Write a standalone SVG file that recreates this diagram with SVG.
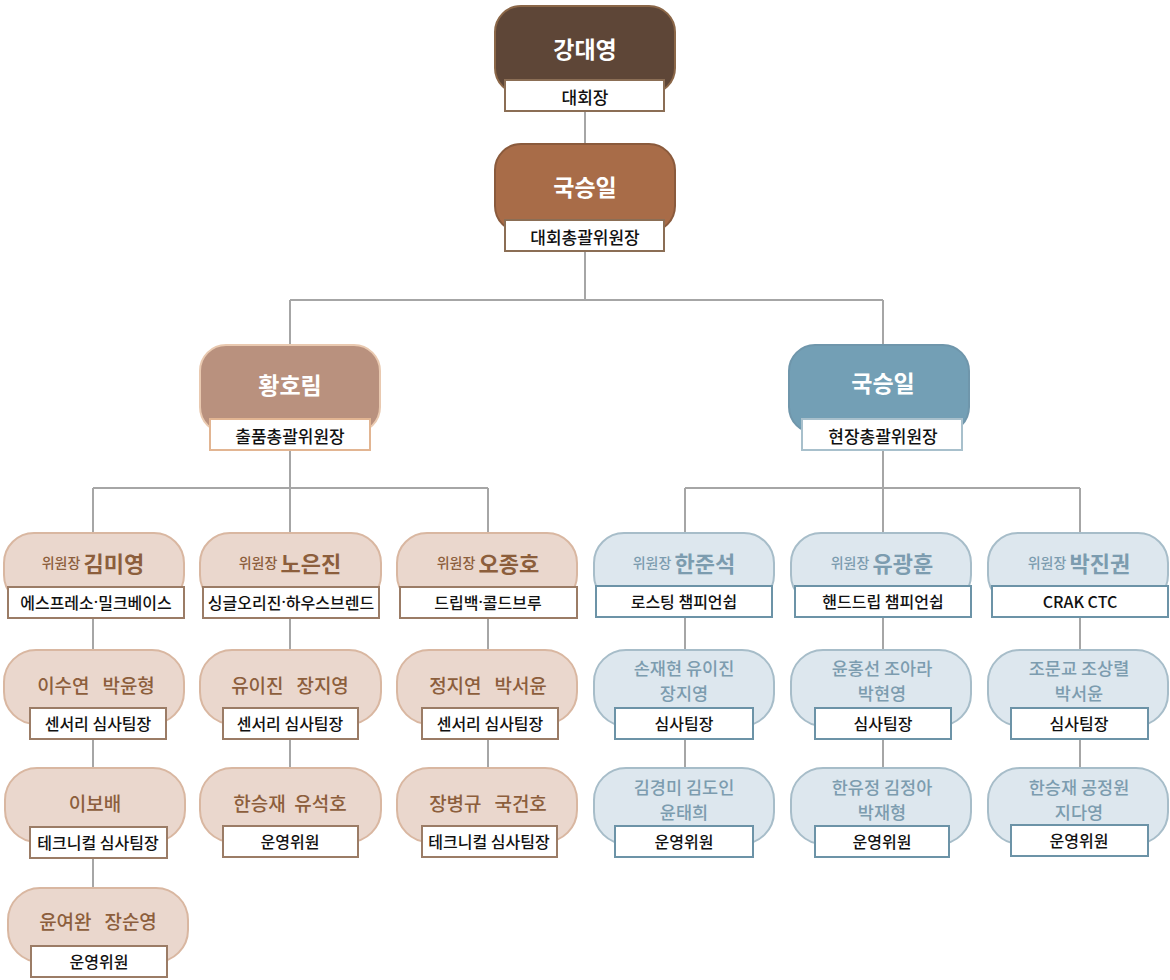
<svg xmlns="http://www.w3.org/2000/svg" width="1170" height="980" viewBox="0 0 1170 980">
<style>
text{font-family:"Noto Sans CJK KR","Noto Sans",sans-serif;text-anchor:middle;dominant-baseline:central}
.conn{fill:none;stroke:#A6A6A6;stroke-width:2}
.lbl{fill:#fff;stroke-width:2}
.lt{font-size:16px;fill:#111;font-weight:500}
.tl{font-size:17px}
.big{font-size:23px;font-weight:700;fill:#fff}
.ln{fill:#EAD7CD;stroke:#D9B7A1;stroke-width:2}
.lb{stroke:#9B7C66}
.lnt{fill:#8C5E3C}
.rn{fill:#DDE7EE;stroke:#A7BDC9;stroke-width:2}
.rb{stroke:#6C93A7}
.rnt{fill:#7C9CAF}
.sm{font-size:14px;font-weight:500}
.nm{font-size:22px;font-weight:700}
.mn{font-size:19px;font-weight:500}
.m2{font-size:17.5px;font-weight:500}
.dot{font-family:"Noto Sans",sans-serif}
</style>
<g id="connectors" class="conn">
<path d="M585 111V143M585 251V300M290 300H883M290 300V344M883 300V344"/>
<path d="M290 450V488M93 488H488M93 488V533M290 488V533M488 488V533"/>
<path d="M883 450V488M685 488H1080M685 488V533M883 488V533M1080 488V533"/>
<path d="M93 618V650M93 739V768M93 858V888M290 618V650M290 739V768M488 618V650M488 739V768"/>
<path d="M685 617V650M685 739V768M883 617V650M883 739V768M1080 617V650M1080 739V768"/>
</g>
<g id="n-kang">
<rect x="495" y="6" width="180" height="88" rx="26" fill="#5E4637" stroke="#8B6748" stroke-width="2"/>
<rect class="lbl" x="505" y="80" width="159" height="31" stroke="#8B6E55"/>
<text class="big" x="585" y="48">강대영</text>
<text class="lt tl" x="585" y="96">대회장</text>
</g>
<g id="n-kook1">
<rect x="495" y="144" width="180" height="88" rx="26" fill="#A86C48" stroke="#8A5A3C" stroke-width="2"/>
<rect class="lbl" x="505" y="220" width="159" height="31" stroke="#8B6E55"/>
<text class="big" x="585" y="186">국승일</text>
<text class="lt tl" x="585" y="236">대회총괄위원장</text>
</g>
<g id="n-hwang">
<rect x="200" y="345" width="180" height="88" rx="26" fill="#B9917E" stroke="#E9C9B0" stroke-width="2"/>
<rect class="lbl" x="210" y="419" width="160" height="31" stroke="#E2B592"/>
<text class="big" x="290" y="384">황호림</text>
<text class="lt tl" x="290" y="435">출품총괄위원장</text>
</g>
<g id="n-kook2">
<rect x="789" y="345" width="180" height="88" rx="26" fill="#739FB5" stroke="#6F96AB" stroke-width="2"/>
<rect class="lbl" x="802" y="419" width="160" height="31" stroke="#A8C0CC"/>
<text class="big" x="883" y="382">국승일</text>
<text class="lt tl" x="883" y="435">현장총괄위원장</text>
</g>
<g id="n-kimmy">
<rect class="ln" x="4" y="533" width="180" height="72" rx="30"/>
<rect class="lbl lb" x="8" y="587" width="176" height="31"/>
<text x="93" y="562"><tspan class="lnt sm">위원장 </tspan><tspan class="lnt nm">김미영</tspan></text>
<text class="lt" x="96" y="602">에스프레소<tspan class="dot">·</tspan>밀크베이스</text>
</g>
<g id="n-noh">
<rect class="ln" x="200" y="533" width="181" height="72" rx="30"/>
<rect class="lbl lb" x="203" y="587" width="176" height="31"/>
<text x="290" y="562"><tspan class="lnt sm">위원장 </tspan><tspan class="lnt nm">노은진</tspan></text>
<text class="lt" x="291" y="602">싱글오리진<tspan class="dot">·</tspan>하우스브렌드</text>
</g>
<g id="n-oh">
<rect class="ln" x="397" y="533" width="180" height="72" rx="30"/>
<rect class="lbl lb" x="400" y="587" width="177" height="31"/>
<text x="488" y="562"><tspan class="lnt sm">위원장 </tspan><tspan class="lnt nm">오종호</tspan></text>
<text class="lt" x="488" y="602">드립백<tspan class="dot">·</tspan>콜드브루</text>
</g>
<g id="n-han">
<rect class="rn" x="594" y="533" width="180" height="72" rx="30"/>
<rect class="lbl rb" x="596" y="586" width="176" height="31"/>
<text x="684" y="562"><tspan class="rnt sm">위원장 </tspan><tspan class="rnt nm">한준석</tspan></text>
<text class="lt" x="684" y="601">로스팅 챔피언쉽</text>
</g>
<g id="n-yoo">
<rect class="rn" x="791" y="533" width="180" height="72" rx="30"/>
<rect class="lbl rb" x="795" y="586" width="176" height="31"/>
<text x="882" y="562"><tspan class="rnt sm">위원장 </tspan><tspan class="rnt nm">유광훈</tspan></text>
<text class="lt" x="883" y="601">핸드드립 챔피언쉽</text>
</g>
<g id="n-park">
<rect class="rn" x="988" y="533" width="180" height="72" rx="30"/>
<rect class="lbl rb" x="992" y="586" width="176" height="31"/>
<text x="1079" y="562"><tspan class="rnt sm">위원장 </tspan><tspan class="rnt nm">박진권</tspan></text>
<text class="lt" x="1080" y="601">CRAK CTC</text>
</g>
<g id="n-lee">
<rect class="ln" x="4" y="650" width="180" height="74" rx="32"/>
<rect class="lbl lb" x="30" y="708" width="136" height="31"/>
<text class="lnt mn" x="96" y="684" xml:space="preserve">이수연   박윤형</text>
<text class="lt" x="98" y="723">센서리 심사팀장</text>
</g>
<g id="n-yij">
<rect class="ln" x="200" y="650" width="181" height="74" rx="32"/>
<rect class="lbl lb" x="223" y="708" width="135" height="31"/>
<text class="lnt mn" x="290" y="684" xml:space="preserve">유이진   장지영</text>
<text class="lt" x="290" y="723">센서리 심사팀장</text>
</g>
<g id="n-jung">
<rect class="ln" x="397" y="650" width="180" height="74" rx="32"/>
<rect class="lbl lb" x="422" y="708" width="136" height="31"/>
<text class="lnt mn" x="488" y="684" xml:space="preserve">정지연   박서윤</text>
<text class="lt" x="490" y="723">센서리 심사팀장</text>
</g>
<g id="n-son">
<rect class="rn" x="594" y="650" width="180" height="76" rx="32"/>
<rect class="lbl rb" x="615" y="708" width="138" height="31"/>
<text class="rnt m2" x="684" y="667">손재현 유이진</text>
<text class="rnt m2" x="684" y="692.5">장지영</text>
<text class="lt" x="684" y="723">심사팀장</text>
</g>
<g id="n-yoon">
<rect class="rn" x="791" y="650" width="180" height="76" rx="32"/>
<rect class="lbl rb" x="815" y="708" width="136" height="31"/>
<text class="rnt m2" x="882" y="667">윤홍선 조아라</text>
<text class="rnt m2" x="882" y="692.5">박현영</text>
<text class="lt" x="883" y="723">심사팀장</text>
</g>
<g id="n-cho">
<rect class="rn" x="988" y="650" width="180" height="76" rx="32"/>
<rect class="lbl rb" x="1011" y="708" width="137" height="31"/>
<text class="rnt m2" x="1079" y="667">조문교 조상렬</text>
<text class="rnt m2" x="1079" y="692.5">박서윤</text>
<text class="lt" x="1079" y="723">심사팀장</text>
</g>
<g id="n-lbb">
<rect class="ln" x="5" y="768" width="180" height="74" rx="32"/>
<rect class="lbl lb" x="30" y="827" width="137" height="31"/>
<text class="lnt mn" x="95" y="802">이보배</text>
<text class="lt" x="98" y="842">테크니컬 심사팀장</text>
</g>
<g id="n-hsj">
<rect class="ln" x="200" y="768" width="181" height="74" rx="32"/>
<rect class="lbl lb" x="223" y="826" width="135" height="31"/>
<text class="lnt mn" x="290" y="802" xml:space="preserve">한승재  유석호</text>
<text class="lt" x="290" y="841">운영위원</text>
</g>
<g id="n-jbk">
<rect class="ln" x="397" y="768" width="180" height="74" rx="32"/>
<rect class="lbl lb" x="422" y="826" width="135" height="31"/>
<text class="lnt mn" x="488" y="802" xml:space="preserve">장병규   국건호</text>
<text class="lt" x="489" y="841">테크니컬 심사팀장</text>
</g>
<g id="n-kgm">
<rect class="rn" x="594" y="768" width="180" height="76" rx="32"/>
<rect class="lbl rb" x="615" y="826" width="138" height="31"/>
<text class="rnt m2" x="684" y="786">김경미 김도인</text>
<text class="rnt m2" x="684" y="811.5">윤태희</text>
<text class="lt" x="684" y="841">운영위원</text>
</g>
<g id="n-hyj">
<rect class="rn" x="791" y="768" width="180" height="76" rx="32"/>
<rect class="lbl rb" x="815" y="826" width="134" height="31"/>
<text class="rnt m2" x="882" y="786">한유정 김정아</text>
<text class="rnt m2" x="882" y="811.5">박재형</text>
<text class="lt" x="882" y="841">운영위원</text>
</g>
<g id="n-hsj2">
<rect class="rn" x="988" y="768" width="180" height="76" rx="32"/>
<rect class="lbl rb" x="1011" y="825" width="137" height="31"/>
<text class="rnt m2" x="1079" y="786">한승재 공정원</text>
<text class="rnt m2" x="1079" y="811.5">지다영</text>
<text class="lt" x="1079" y="840">운영위원</text>
</g>
<g id="n-ywa">
<rect class="ln" x="8" y="888" width="180" height="74" rx="32"/>
<rect class="lbl lb" x="31" y="946" width="136" height="31"/>
<text class="lnt mn" x="98" y="920" xml:space="preserve">윤여완   장순영</text>
<text class="lt" x="99" y="961">운영위원</text>
</g>
</svg>
